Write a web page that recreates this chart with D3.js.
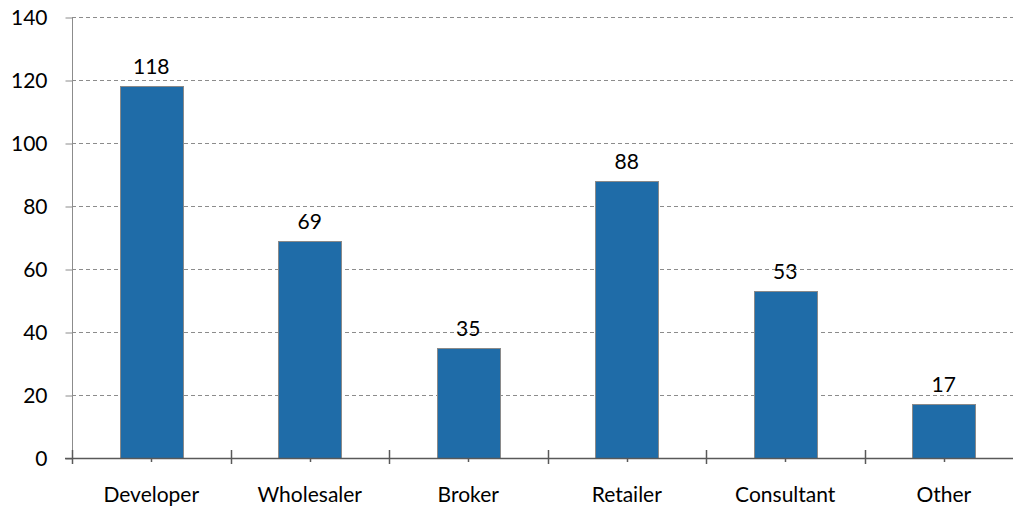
<!DOCTYPE html>
<html>
<head>
<meta charset="utf-8">
<script src="https://cdn.jsdelivr.net/npm/d3@7"></script>
<style>
  body { margin: 0; background: #fff; }
  text { font-family: Lato, "Open Sans", sans-serif; fill: #000; }
</style>
</head>
<body>
<svg id="chart" width="1013" height="510"></svg>
<script>
var categories = ["Developer", "Wholesaler", "Broker", "Retailer", "Consultant", "Other"];
var values = [118, 69, 35, 88, 53, 17];
var yTicks = [0, 20, 40, 60, 80, 100, 120, 140];

var svg = d3.select("#chart"),
    mLeft = 72, mRight = 1023, mTop = 17, mBottom = 458,
    fontSize = "21px";

var x = d3.scaleBand().domain(categories).range([mLeft, mRight]).paddingInner(0).paddingOuter(0);
var y = d3.scaleLinear().domain([0, 140]).range([mBottom, mTop]);
var barW = x.bandwidth() * 0.4;

// gridlines
svg.append("g").selectAll("line.grid")
    .data(yTicks.filter(function(d){ return d > 0; }))
    .enter().append("line")
    .attr("class", "grid")
    .attr("x1", mLeft).attr("x2", mRight)
    .attr("y1", function(d){ return Math.round(y(d)) + 0.5; })
    .attr("y2", function(d){ return Math.round(y(d)) + 0.5; })
    .attr("stroke", "#8c8c8c").attr("stroke-width", 1)
    .attr("stroke-dasharray", "4,3");

// y axis
var yAxis = d3.axisLeft(y).tickValues(yTicks).tickSize(7).tickPadding(18).tickFormat(d3.format("d"));
var gy = svg.append("g").attr("transform", "translate(" + (mLeft + 0.5) + ",0.5)").call(yAxis);
gy.select(".domain").attr("stroke", "#8c8c8c").attr("d", "M0," + mTop + "V" + mBottom);
gy.selectAll(".tick line").attr("stroke", "#8c8c8c");
gy.selectAll(".tick text").style("font-size", fontSize).style("font-family", "Lato, 'Open Sans', sans-serif").attr("fill", "#000");

// bars
svg.append("g").selectAll("rect")
    .data(values)
    .enter().append("rect")
    .attr("x", function(d, i){ return Math.round(x(categories[i]) + (x.bandwidth() - barW) / 2) + 0.5; })
    .attr("y", function(d){ return Math.round(y(d)) + 0.5; })
    .attr("width", Math.round(barW))
    .attr("height", function(d){ return mBottom - Math.round(y(d)); })
    .attr("fill", "#1f6ca8")
    .attr("stroke", "#8a8a8a").attr("stroke-width", 1);

// value labels
svg.append("g").selectAll("text")
    .data(values)
    .enter().append("text")
    .attr("x", function(d, i){ return x(categories[i]) + x.bandwidth() / 2; })
    .attr("y", function(d){ return y(d) - 12; })
    .attr("text-anchor", "middle")
    .style("font-size", fontSize)
    .text(function(d){ return d; });

// x axis line
svg.append("line")
    .attr("x1", mLeft - 7).attr("x2", mRight)
    .attr("y1", mBottom + 0.5).attr("y2", mBottom + 0.5)
    .attr("stroke", "#595959").attr("stroke-width", 1.5);

// boundary ticks
var bounds = categories.map(function(c){ return x(c); }).concat([mRight]);
svg.append("g").selectAll("line")
    .data(bounds)
    .enter().append("line")
    .attr("x1", function(d){ return Math.round(d) + 0.5; }).attr("x2", function(d){ return Math.round(d) + 0.5; })
    .attr("y1", mBottom - 8).attr("y2", mBottom + 6)
    .attr("stroke", "#595959").attr("stroke-width", 1.5);

// center ticks
svg.append("g").selectAll("line")
    .data(categories)
    .enter().append("line")
    .attr("x1", function(d){ return Math.round(x(d) + x.bandwidth() / 2) + 0.5; })
    .attr("x2", function(d){ return Math.round(x(d) + x.bandwidth() / 2) + 0.5; })
    .attr("y1", mBottom).attr("y2", mBottom + 4)
    .attr("stroke", "#595959").attr("stroke-width", 1.5);

// category labels
svg.append("g").selectAll("text")
    .data(categories)
    .enter().append("text")
    .attr("x", function(d){ return x(d) + x.bandwidth() / 2; })
    .attr("y", 502)
    .attr("text-anchor", "middle")
    .style("font-size", fontSize)
    .text(function(d){ return d; });
</script>
</body>
</html>
